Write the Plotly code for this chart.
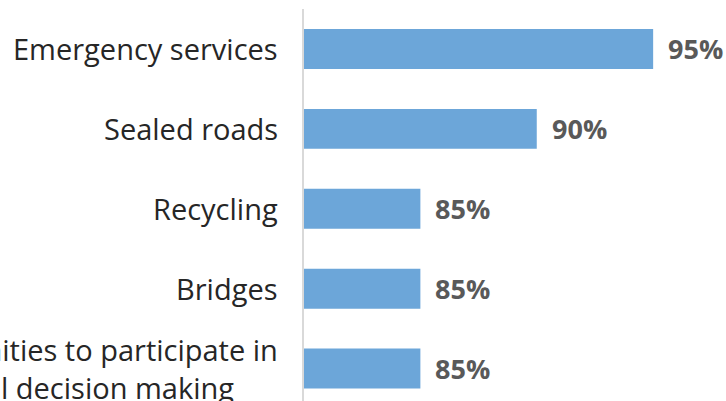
import plotly.graph_objects as go

# Share of respondents rating each service as important
categories = [
    "Emergency services",
    "Sealed roads",
    "Recycling",
    "Bridges",
    "Opportunities to participate in<br>council decision making",
]
values = [95, 90, 85, 85, 85]
value_labels = ["95%", "90%", "85%", "85%", "85%"]

BAR_COLOR = "#6CA6D9"
LABEL_FONT = "Century Gothic, Open Sans, sans-serif"

fig = go.Figure(
    go.Bar(
        x=values,
        y=categories,
        orientation="h",
        marker=dict(color=BAR_COLOR, line=dict(width=0)),
        width=0.5,
        hoverinfo="skip",
    )
)

# Value labels placed just past the end of each bar
annotations = []
for cat, v, lab in zip(categories, values, value_labels):
    annotations.append(
        dict(
            x=v, y=cat, xref="x", yref="y",
            text=f"<b>{lab}</b>", showarrow=False,
            xanchor="left", yanchor="middle", xshift=13,
            font=dict(family=LABEL_FONT, size=27, color="#595959"),
        )
    )

# Category names to the left of the axis, multi-line text centred
for cat in categories:
    annotations.append(
        dict(
            x=0, y=cat, xref="paper", yref="y",
            text=cat, showarrow=False, align="center",
            xanchor="right", yanchor="middle", xshift=-24,
            font=dict(family=LABEL_FONT, size=29, color="#262626"),
        )
    )

fig.update_layout(
    width=726,
    height=401,
    margin=dict(l=304, r=0, t=9, b=0),
    paper_bgcolor="white",
    plot_bgcolor="white",
    showlegend=False,
    annotations=annotations,
    xaxis=dict(
        range=[80, 98.13],
        showgrid=False,
        zeroline=False,
        showticklabels=False,
        ticks="",
        showline=False,
        fixedrange=True,
    ),
    yaxis=dict(
        type="category",
        categoryorder="array",
        categoryarray=categories,
        range=[4.406, -0.5],
        showgrid=False,
        zeroline=False,
        showticklabels=False,
        ticks="",
        showline=True,
        linecolor="#D9D9D9",
        linewidth=2,
        fixedrange=True,
    ),
)

fig.write_html("out.html")
